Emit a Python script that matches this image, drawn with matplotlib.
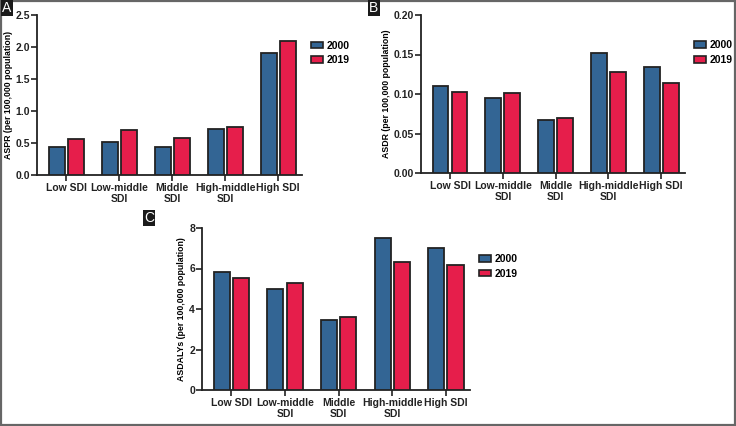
import numpy as np
import matplotlib
matplotlib.use('Agg')
import matplotlib.pyplot as plt
from matplotlib.patches import Rectangle, Patch

plt.rcParams['font.family'] = ['Liberation Sans', 'DejaVu Sans']
plt.rcParams['font.weight'] = 'bold'

categories = ['Low SDI', 'Low-middle\nSDI', 'Middle\nSDI', 'High-middle\nSDI', 'High SDI']
years = ['2000', '2019']

aspr_2000 = [0.44, 0.51, 0.44, 0.72, 1.90]
aspr_2019 = [0.57, 0.70, 0.58, 0.75, 2.09]

asdr_2000 = [0.110, 0.095, 0.067, 0.152, 0.134]
asdr_2019 = [0.103, 0.101, 0.070, 0.128, 0.114]

asdalys_2000 = [5.85, 5.00, 3.45, 7.50, 7.00]
asdalys_2019 = [5.55, 5.30, 3.60, 6.32, 6.15]

蓝 = '#336594'
红 = '#E61E4B'
W, H = 736, 426


def 像素轴(fig, left, top, right, bottom):
    return fig.add_axes([left / W, 1 - bottom / H, (right - left) / W, (bottom - top) / H])


def 画面板(ax, v2000, v2019, ylabel, yticks, ytick_fmt):
    x = np.arange(len(categories))
    ax.bar(x - 0.18, v2000, width=0.3, color=蓝, edgecolor='#222222', linewidth=1.3, label=years[0], zorder=3)
    ax.bar(x + 0.18, v2019, width=0.3, color=红, edgecolor='#222222', linewidth=1.3, label=years[1], zorder=3)
    ax.set_xlim(-0.55, 4.45)
    ax.set_ylim(yticks[0], yticks[-1])
    ax.set_yticks(yticks)
    ax.set_yticklabels([ytick_fmt.format(t) for t in yticks])
    ax.set_xticks(x)
    ax.set_xticklabels(categories, fontsize=7.5, fontweight='bold', linespacing=1.05)
    ax.tick_params(axis='both', direction='out', length=4, width=1.2, colors='#222222', labelsize=7.5, pad=2)
    ax.tick_params(axis='y', pad=1)
    ax.set_ylabel(ylabel, fontsize=6.3, fontweight='bold', labelpad=2)
    for s in ['top', 'right']:
        ax.spines[s].set_visible(False)
    for s in ['left', 'bottom']:
        ax.spines[s].set_linewidth(1.3)
        ax.spines[s].set_color('#222222')
    handles = [Patch(facecolor=蓝, edgecolor='#222222', linewidth=1.2),
               Patch(facecolor=红, edgecolor='#222222', linewidth=1.2)]
    ax.legend(handles, years, loc='upper left', bbox_to_anchor=(1.035, 0.84), frameon=False,
              fontsize=7.5, handlelength=1.1, handleheight=0.6, handletextpad=0.4,
              labelspacing=0.45, borderaxespad=0, borderpad=0)


def 面板字母(fig, x, y, letter):
    fig.text(x / W, 1 - y / H, letter, color='white', fontsize=10, fontweight='normal',
             ha='left', va='top',
             bbox=dict(boxstyle='square,pad=0.1', facecolor='#1a1a1a', edgecolor='none'))


fig = plt.figure(figsize=(W / 100, H / 100), dpi=100)

ax_a = 像素轴(fig, 37, 15, 302, 175)
画面板(ax_a, aspr_2000, aspr_2019, 'ASPR (per 100,000 population)',
     [0.0, 0.5, 1.0, 1.5, 2.0, 2.5], '{:.1f}')

ax_b = 像素轴(fig, 421, 15, 685, 173)
画面板(ax_b, asdr_2000, asdr_2019, 'ASDR (per 100,000 population)',
     [0.00, 0.05, 0.10, 0.15, 0.20], '{:.2f}')

ax_c = 像素轴(fig, 202, 228, 470, 390)
画面板(ax_c, asdalys_2000, asdalys_2019, 'ASDALYs (per 100,000 population)',
     [0, 2, 4, 6, 8], '{:d}')

面板字母(fig, 2, 1, 'A')
面板字母(fig, 369, 1, 'B')
面板字母(fig, 144, 211, 'C')

# 外框
fig.patches.append(Rectangle((0.001, 0.002), 0.997, 0.995, transform=fig.transFigure,
                             fill=False, edgecolor='#666666', linewidth=1.6))

fig.savefig('out.png', dpi=100)
